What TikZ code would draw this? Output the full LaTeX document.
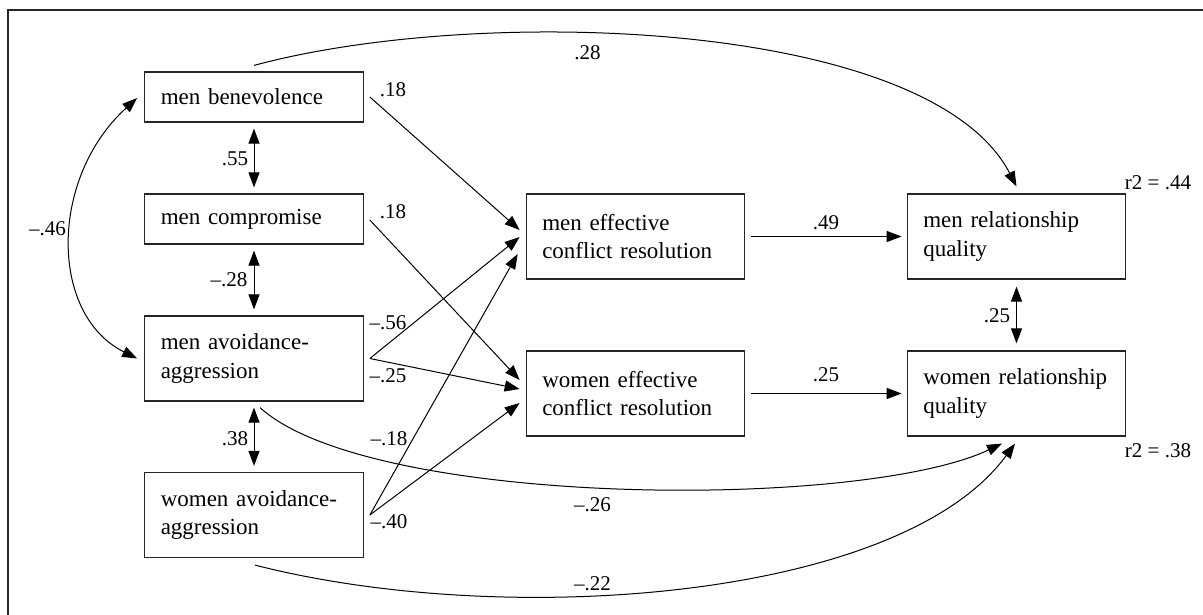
\documentclass[tikz,border=0pt]{standalone}
\usepackage{fontspec}
\setmainfont{Liberation Serif}
\usetikzlibrary{arrows.meta,calc}
\begin{document}
\begin{tikzpicture}[x=1pt,y=-1pt,
  box/.style={draw=black!85, line width=1.2pt, inner xsep=16pt, inner ysep=0pt,
    text width=186.5pt, align=left,
    font=\fontsize{23}{28.5}\selectfont},
  bone/.style={box, minimum height=50pt},
  btwo/.style={box, minimum height=85pt},
  lab/.style={inner sep=0pt, font=\fontsize{21}{24}\selectfont},
  tip/.tip={Triangle[length=15pt,width=11pt]},
  conn/.style={line width=1pt, -tip},
  dbl/.style={line width=1pt, tip-tip},
]
\useasboundingbox (0,0) rectangle (1203,615);
% frame (cropped)
\draw[line width=2.6pt, black!85] (8,630) -- (8,10) -- (1220,10);

% boxes
\node[bone] (mb) at (254,97) {men benevolence};
\node[bone] (mc) at (254,219) {men compromise};
\node[btwo] (ma) at (254,358.5) {men avoidance-\\aggression};
\node[btwo] (wa) at (254,515) {women avoidance-\\aggression};
\node[btwo] (me) at (635.5,236.5) {men effective\\conflict resolution};
\node[btwo] (we) at (635.5,393.5) {women effective\\conflict resolution};
\node[btwo] (mr) at (1016.5,236.5) {men relationship\\quality};
\node[btwo] (wr) at (1016.5,393.5) {women relationship\\quality};

% correlations (vertical)
\draw[dbl, shorten <=6pt, shorten >=6pt] (mb.south) -- (mc.north);
\draw[dbl, shorten <=6pt, shorten >=6pt] (mc.south) -- (ma.north);
\draw[dbl, shorten <=6pt, shorten >=6pt] (ma.south) -- (wa.north);
\draw[dbl, shorten <=7pt, shorten >=7pt] (mr.south) -- (wr.north);
\draw[dbl] ($(mb.west)+(-7,1)$) .. controls +(-88,80) and +(-88,-44) .. ($(ma.west)+(-7,0)$);

% paths to conflict resolution
\draw[conn] ($(mb.east)+(6,0)$) -- ($(me.west)+(-6,-6.5)$);
\draw[conn] ($(mc.east)+(6,1)$) -- ($(we.west)+(-6,-13.5)$);
\draw[conn] ($(ma.east)+(6,0)$) -- ($(me.west)+(-6,0.5)$);
\draw[conn] ($(ma.east)+(6,0)$) -- ($(we.west)+(-6,-4.5)$);
\draw[conn] ($(wa.east)+(6,0)$) -- ($(me.west)+(-8,17.5)$);
\draw[conn] ($(wa.east)+(6,0)$) -- ($(we.west)+(-6,9.5)$);

% paths to relationship quality
\draw[conn, shorten <=6pt, shorten >=5pt] (me.east) -- (mr.west);
\draw[conn, shorten <=6pt, shorten >=5pt] (we.east) -- (wr.west);

% curved paths
\draw[conn] ($(mb.north)+(0,-6)$) .. controls +(226,-61) and +(-86.5,-167) .. ($(mr.north)+(0,-7)$);
\draw[conn] ($(ma.south)+(6,6)$) .. controls +(110,100) and +(-142,67) .. ($(wr.south)+(-14.5,7)$);
\draw[conn] ($(wa.south)+(1,7)$) .. controls +(250,64) and +(-115,157) .. ($(wr.south)+(-1.5,7)$);

% labels
\node[lab] (l1) at (393,89.5) {.18};
\node[lab] (l2) at (393,211.5) {.18};
\node[lab] (l3) at (235,159) {.55};
\node[lab] (l4) at (229,280) {\textendash.28};
\node[lab] (l5) at (47.5,229) {\textendash.46};
\node[lab] (l6) at (388,323) {\textendash.56};
\node[lab] (l7) at (388,376) {\textendash.25};
\node[lab] (l8) at (389,439) {\textendash.18};
\node[lab] (l9) at (389,522) {\textendash.40};
\node[lab] (l10) at (235,439) {.38};
\node[lab] (l11) at (826,222.5) {.49};
\node[lab] (l12) at (826,374.5) {.25};
\node[lab] (l13) at (997,315.5) {.25};
\node[lab] (l14) at (1158,182.5) {r2 = .44};
\node[lab] (l15) at (1158,450.5) {r2 = .38};
\node[lab] (l16) at (592.5,504.5) {\textendash.26};
\node[lab] (l17) at (592.5,584) {\textendash.22};
\node[lab] (l18) at (587.5,52.5) {.28};
\end{tikzpicture}
\end{document}
